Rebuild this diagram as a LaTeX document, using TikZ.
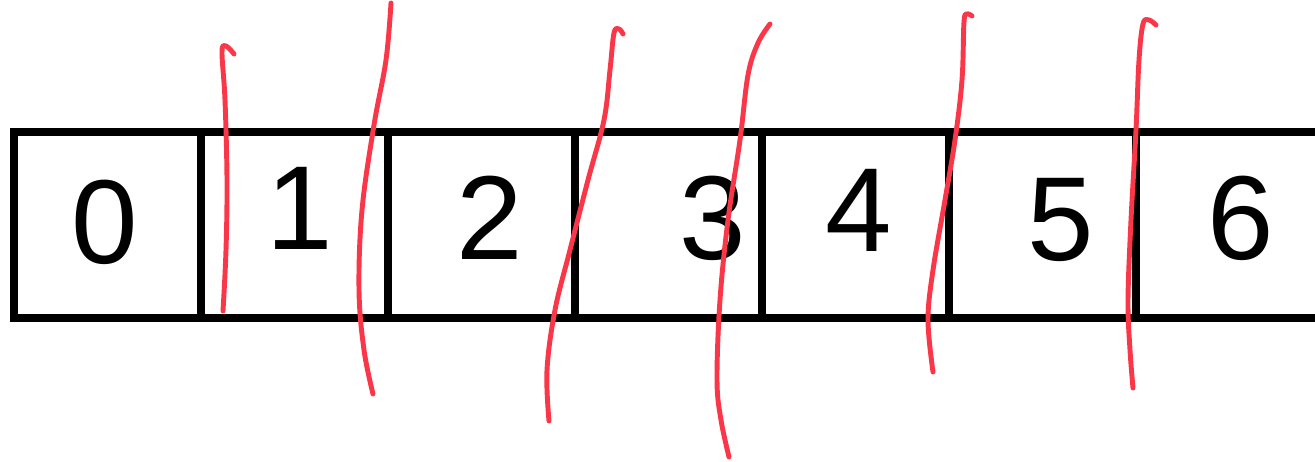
\documentclass[tikz,border=0pt]{standalone}
\usepackage{fontspec}
\setmainfont{Liberation Sans}
\usetikzlibrary{calc}
\usetikzlibrary{positioning}
\definecolor{cutred}{RGB}{250,55,72}
\tikzstyle{cellnode} = [draw, rectangle, line width=4.4pt, minimum width=3.74cm, minimum height=3.72cm, outer sep=0pt, inner sep=0pt]
\tikzstyle{digitnode} = [inner sep=0pt, font=\fontsize{68}{70}\selectfont]
\tikzstyle{cutline} = [draw=cutred, line width=2.8pt, line cap=round, line join=round]

\begin{document}
\begin{tikzpicture}[x=0.02cm, y=-0.02cm]
\useasboundingbox (0,0) rectangle (1315,462);
\clip (0,0) rectangle (1315,462);
\node[cellnode] (c0) at (107.5,225) {};
\node[cellnode, right=0pt of c0] (c1) {};
\node[cellnode, right=0pt of c1] (c2) {};
\node[cellnode, right=0pt of c2] (c3) {};
\node[cellnode, right=0pt of c3] (c4) {};
\node[cellnode, right=0pt of c4] (c5) {};
\node[cellnode, right=0pt of c5] (c6) {};

\node[digitnode] (d0) at ($(c0)+(-2.5,-3)$) {0};
\node[digitnode] (d1) at ($(c1)+(5,-17)$) {1};
\node[digitnode] (d2) at ($(c2)+(8.5,-7)$) {2};
\node[digitnode] (d3) at ($(c3)+(44.5,-7)$) {3};
\node[digitnode] (d4) at ($(c4)+(3,-15)$) {4};
\node[digitnode] (d5) at ($(c5)+(18.5,-5)$) {5};
\node[digitnode] (d6) at ($(c6)+(11.5,-7)$) {6};

% cuts
\draw[cutline] plot[smooth, tension=0.6] coordinates {(234,54) (226,46) (222,52) (225,100) (227,180) (226,250) (223,311)};
\draw[cutline] plot[smooth, tension=0.6] coordinates {(391,3) (386,60) (374,125) (362,210) (359,290) (364,350) (373,394)};
\draw[cutline] plot[smooth, tension=0.6] coordinates {(623,34) (619,29) (614,33) (610,70) (604,120) (588,180) (570,250) (555,310) (547,370) (549,421)};
\draw[cutline] plot[smooth, tension=0.6] coordinates {(770,24) (758,43) (748,75) (740,140) (728,220) (720,300) (717,380) (721,420) (729,457)};
\draw[cutline] plot[smooth, tension=0.6] coordinates {(972,16) (967,14) (964,22) (962,80) (955,140) (945,200) (933,270) (928,320) (933,372)};
\draw[cutline] plot[smooth, tension=0.6] coordinates {(1156,25) (1149,20) (1143,24) (1139,60) (1136,130) (1131,220) (1128,300) (1130,350) (1133,388)};
\end{tikzpicture}
\end{document}
